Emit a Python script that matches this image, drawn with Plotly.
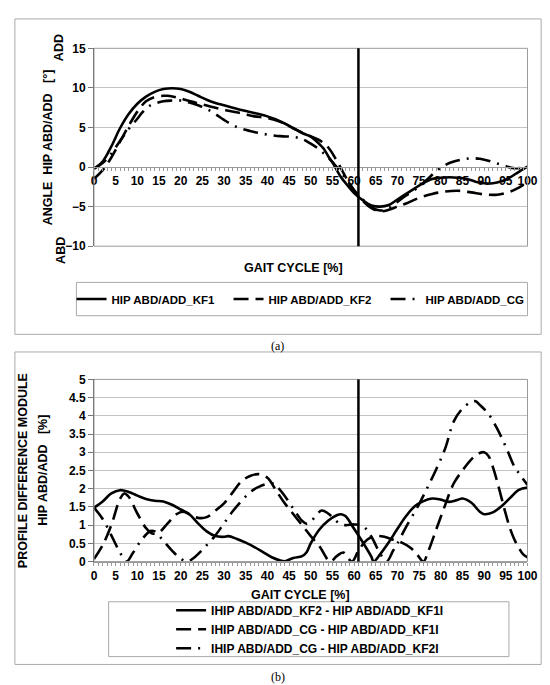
import plotly.graph_objects as go

W, H = 550, 685
FONT = "Liberation Sans"


def px(x):
    return x / W


def py(y):
    return 1 - y / H


# ---- (a) hip abduction/adduction angle [deg] ----
kf1_x = [0, 2, 4, 6, 8, 10, 12, 14, 16, 18, 20, 22, 24, 26, 28, 30, 32, 34, 36, 38, 40,
         42, 44, 46, 48, 50, 52, 53, 54, 55, 57, 58, 60, 62, 64, 66, 68, 70, 72, 74, 76,
         78, 80, 82, 84, 86, 88, 90, 92, 94, 96, 98, 100]
kf1_y = [-0.2, 0.7, 2.6, 4.9, 6.7, 8.0, 8.9, 9.5, 9.85, 9.95, 9.85, 9.5, 9.0, 8.5, 8.1,
         7.8, 7.5, 7.2, 6.95, 6.7, 6.4, 6.0, 5.5, 4.9, 4.3, 3.85, 2.9, 2.3, 1.4, 0.6,
         -1.3, -2.0, -3.3, -4.2, -4.85, -5.0, -4.8, -4.1, -3.4, -2.7, -2.0, -1.5, -1.35,
         -1.3, -1.35, -1.5, -1.85, -2.05, -2.05, -1.8, -1.3, -0.6, 0.05]

kf2_x = [0, 2, 4, 6, 8, 10, 12, 14, 16, 17, 19, 21, 23, 25, 28, 31, 34, 37, 40, 43, 46,
         49, 52, 54, 56, 58, 60, 62, 64, 66, 68, 70, 72, 75, 78, 81, 84, 87, 90, 93, 96,
         98, 100]
kf2_y = [-1.5, -0.4, 1.2, 3.2, 5.2, 7.0, 8.3, 8.85, 9.0, 9.0, 8.8, 8.5, 8.2, 7.9, 7.5,
         7.1, 6.8, 6.4, 6.2, 5.7, 4.9, 4.1, 3.4, 2.5, 0.8, -1.2, -3.0, -4.3, -5.2, -5.6,
         -5.4, -5.0, -4.6, -3.9, -3.4, -3.1, -3.0, -3.2, -3.45, -3.5, -3.1, -2.6, -1.9]

cg_x = [0, 2, 4, 6, 8, 10, 11, 13, 16, 18, 20, 22, 24, 26, 28, 30, 32, 34, 36, 38, 40,
        43, 46, 48, 50, 52, 54, 56, 58, 60, 62, 64, 66, 68, 70, 72, 75, 77, 79, 81, 83,
        85, 87, 89, 91, 93, 95, 97, 100]
cg_y = [-0.2, 0.5, 1.7, 3.3, 4.8, 6.1, 6.8, 7.8, 8.3, 8.4, 8.4, 8.15, 7.8, 7.35, 6.7,
        5.95, 5.3, 4.85, 4.55, 4.3, 4.1, 3.9, 3.8, 3.55, 2.95, 2.2, 1.2, 0.0, -1.4, -2.9,
        -4.1, -5.1, -5.5, -5.2, -4.4, -3.6, -2.5, -1.5, -0.5, 0.25, 0.7, 0.95, 1.1, 1.05,
        0.8, 0.45, 0.1, -0.15, -0.05]

# ---- (b) profile difference module [%] ----
d21_x = [0, 2, 4, 6, 8, 10, 12, 14, 16, 18, 20, 22, 24, 26, 28, 30, 31, 33, 35, 37, 39,
         41, 43, 44, 46, 48, 49, 50, 52, 54, 56, 57, 58, 60, 62, 64, 64.5, 66, 68, 70, 72,
         74, 76, 78, 80, 82, 84, 85, 87, 89, 90, 92, 94, 96, 98, 100]
d21_y = [1.48, 1.65, 1.87, 1.96, 1.91, 1.81, 1.72, 1.67, 1.65, 1.56, 1.43, 1.3, 1.05,
         0.83, 0.7, 0.68, 0.7, 0.62, 0.52, 0.4, 0.26, 0.12, 0.03, 0.01, 0.1, 0.15, 0.25,
         0.5, 0.88, 1.12, 1.27, 1.3, 1.25, 0.9, 0.53, 0.13, 0.0, 0.2, 0.53, 0.9, 1.25,
         1.52, 1.66, 1.73, 1.7, 1.64, 1.7, 1.73, 1.62, 1.37, 1.3, 1.35, 1.52, 1.75, 1.97,
         2.03]

dcg1_x = [0, 2, 4, 6, 7, 8, 10, 12, 13.5, 15, 17, 19, 20.5, 22, 24, 26, 28, 30, 32, 34,
          36, 38, 40, 42, 44, 46, 48, 50, 52, 54.5, 56, 57.5, 59.5, 61, 63, 65, 67, 69,
          71, 73, 74.5, 76, 77, 79, 81, 83, 85, 87, 89, 90, 91, 92, 93, 94, 95, 96, 97,
          98, 99, 100]
dcg1_y = [0.07, 0.45, 1.0, 1.72, 1.87, 1.78, 1.32, 0.92, 0.77, 0.8, 1.05, 1.3, 1.37, 1.3,
          1.2, 1.22, 1.4, 1.6, 1.9, 2.2, 2.35, 2.4, 2.3, 1.95, 1.6, 1.3, 1.0, 0.7, 0.42,
          0.0, 0.15, 0.25, 0.0, 0.3, 0.6, 0.7, 0.68, 0.6, 0.52, 0.38, 0.2, 0.0, 0.25, 0.9,
          1.55, 2.15, 2.5, 2.8, 2.98, 3.0, 2.9, 2.6, 2.2, 1.75, 1.3, 0.9, 0.6, 0.38, 0.2,
          0.12]

dcg2_x = [0, 2, 4, 6, 7.5, 9, 11, 13, 14, 16, 18, 20, 21.5, 23, 26, 28, 30, 32, 34, 36,
          38, 41, 42, 44, 46, 48, 49, 50, 52.5, 54, 56.5, 58, 60, 62, 64, 66, 67.5, 69,
          70, 72, 75, 77, 79, 81, 83, 85, 87, 88, 89, 91, 93, 95, 97, 98, 100]
dcg2_y = [1.48, 1.17, 0.72, 0.25, 0.0, 0.24, 0.6, 0.84, 0.83, 0.57, 0.3, 0.08, 0.0, 0.1,
          0.45, 0.72, 1.05, 1.38, 1.66, 1.9, 2.05, 2.15, 2.08, 1.8, 1.45, 1.12, 1.04, 1.1,
          1.4, 1.32, 1.06, 1.0, 1.02, 0.98, 0.68, 0.22, 0.0, 0.3, 0.5, 0.95, 1.58, 2.05,
          2.55, 3.1, 3.85, 4.2, 4.38, 4.4, 4.3, 4.05, 3.65, 3.15, 2.6, 2.43, 2.1]

TOE_OFF = 61  # vertical line, % of gait cycle
x_ticks = list(range(0, 101, 5))

DASH = "15px,7px"
DASHDOT = "15px,7px,2px,7px"

fig = go.Figure()

# top chart traces
for xs, ys, name, dash in [(kf1_x, kf1_y, "HIP ABD/ADD_KF1", "solid"),
                           (kf2_x, kf2_y, "HIP ABD/ADD_KF2", DASH),
                           (cg_x, cg_y, "HIP ABD/ADD_CG", DASHDOT)]:
    fig.add_trace(go.Scatter(
        x=xs, y=ys, name=name, mode="lines",
        line=dict(color="black", width=2.6, dash=dash, shape="spline", smoothing=1),
        xaxis="x", yaxis="y", legend="legend"
    ))

# bottom chart traces
for xs, ys, name, dash in [(d21_x, d21_y, "IHIP ABD/ADD_KF2 - HIP ABD/ADD_KF1I", "solid"),
                           (dcg1_x, dcg1_y, "IHIP ABD/ADD_CG - HIP ABD/ADD_KF1I", DASH),
                           (dcg2_x, dcg2_y, "IHIP ABD/ADD_CG - HIP ABD/ADD_KF2I", DASHDOT)]:
    fig.add_trace(go.Scatter(
        x=xs, y=ys, name=name, mode="lines",
        line=dict(color="black", width=2.6, dash=dash, shape="spline", smoothing=1),
        xaxis="x2", yaxis="y2", legend="legend2"
    ))

tickfont = dict(family=FONT, size=12, color="black", weight="bold")
top_dom = [py(236), py(34)]
bot_dom = [py(558), py(372)]
x_dom = [px(85), px(529)]
zero_pos = top_dom[0] + (0 - -10) / 25 * (top_dom[1] - top_dom[0])

common_x = dict(
    range=[0, 100], tickvals=x_ticks, ticks="outside", ticklen=3, tickcolor="#999",
    showline=True, linecolor="#999", linewidth=1, showgrid=False, zeroline=False,
    tickfont=tickfont, minor=dict(dtick=1, ticks="outside", ticklen=3, tickcolor="#999"),
)
common_y = dict(
    showgrid=True, gridcolor="#c4c4c4", gridwidth=1, ticks="outside", ticklen=5,
    tickcolor="#777", showline=True, linecolor="#555", linewidth=1, zeroline=False,
    tickfont=tickfont,
)

fig.update_layout(
    width=W, height=H,
    margin=dict(l=0, r=0, t=0, b=0),
    paper_bgcolor="white", plot_bgcolor="white",
    xaxis=dict(domain=x_dom, anchor="free", position=zero_pos, **common_x),
    yaxis=dict(domain=top_dom, range=[-10, 15], dtick=5, anchor="x", **common_y),
    xaxis2=dict(domain=x_dom, anchor="y2", **common_x),
    yaxis2=dict(domain=bot_dom, range=[0, 5], dtick=0.5, anchor="x2", **common_y),
    legend=dict(orientation="h", x=px(62), xanchor="left", y=py(290), yanchor="middle",
                entrywidth=112, entrywidthmode="pixels",
                font=dict(family=FONT, size=11.5, color="black", weight="bold"),
                bgcolor="rgba(0,0,0,0)", borderwidth=0),
    legend2=dict(orientation="v", x=px(164), xanchor="left", y=py(627), yanchor="middle",
                 font=dict(family=FONT, size=12, color="black", weight="bold"),
                 bgcolor="rgba(0,0,0,0)", borderwidth=0),
)

shapes = []
# outer frames of (a) and (b)
for y0, y1 in [(4, 326), (344, 663)]:
    shapes.append(dict(type="rect", xref="paper", yref="paper", x0=px(4), x1=px(543),
                       y0=py(y1), y1=py(y0), line=dict(color="#aaa", width=1)))
# legend boxes
for x0, x1, y0, y1 in [(67, 529, 273, 307), (100, 510, 599, 655)]:
    shapes.append(dict(type="rect", xref="paper", yref="paper", x0=px(x0), x1=px(x1),
                       y0=py(y1), y1=py(y0), line=dict(color="#aaa", width=1)))
# plot area borders and toe-off line
for xr, yr in [("x", "y"), ("x2", "y2")]:
    shapes.append(dict(type="rect", xref=xr + " domain", yref=yr + " domain",
                       x0=0, x1=1, y0=0, y1=1, line=dict(color="#9a9a9a", width=1)))
    shapes.append(dict(type="line", xref=xr, yref=yr + " domain", x0=TOE_OFF, x1=TOE_OFF,
                       y0=0, y1=1, line=dict(color="black", width=2.5)))
fig.update_layout(shapes=shapes)

bold12 = dict(family=FONT, size=12.5, color="black", weight="bold")
ann = [
    dict(text="GAIT CYCLE [%]", x=px(289), y=py(258), font=bold12),
    dict(text="GAIT CYCLE [%]", x=px(297), y=py(592), font=bold12),
    dict(text="ANGLE\u00a0\u00a0HIP ABD/ADD\u00a0\u00a0\u00a0[°]", x=px(38), y=py(135),
         font=bold12, textangle=-90),
    dict(text="ADD", x=px(50), y=py(33), font=bold12, textangle=-90),
    dict(text="ABD", x=px(51), y=py(240), font=bold12, textangle=-90),
    dict(text="PROFILE DIFFERENCE MODULE", x=px(13), y=py(465), font=bold12, textangle=-90),
    dict(text="HIP ABD/ADD\u00a0\u00a0\u00a0[%]", x=px(33), y=py(465), font=bold12,
         textangle=-90),
    dict(text="(a)", x=px(273), y=py(338),
         font=dict(family="Liberation Serif", size=12, color="black")),
    dict(text="(b)", x=px(273), y=py(676),
         font=dict(family="Liberation Serif", size=12, color="black")),
]
for a in ann:
    fig.add_annotation(xref="paper", yref="paper", showarrow=False,
                       xanchor="center", yanchor="middle", **a)

fig.write_html("out.html")
